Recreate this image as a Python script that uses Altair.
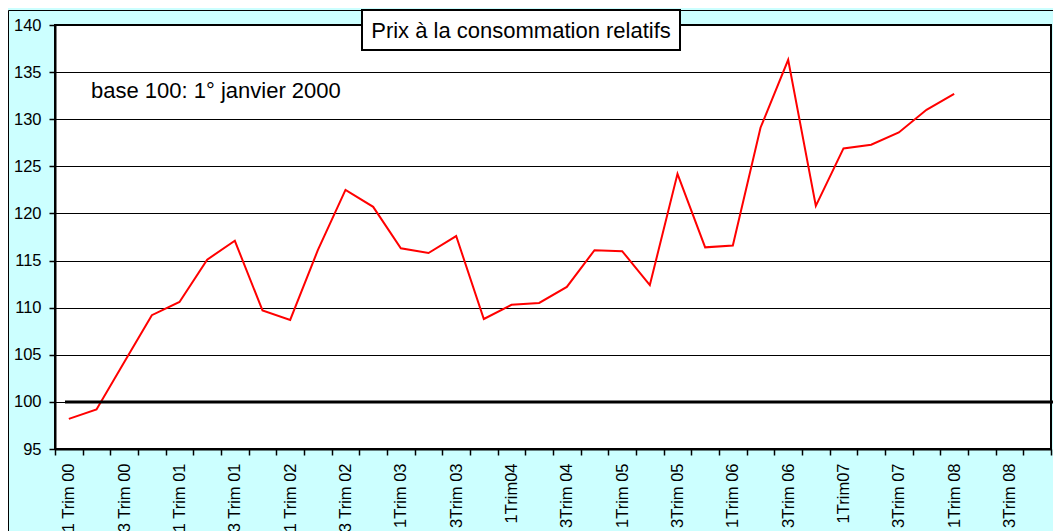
import altair as alt
import pandas as pd

FONT = "Liberation Sans"

categories = [
    "1 Trim 00", "2 Trim 00", "3 Trim 00", "4 Trim 00",
    "1 Trim 01", "2 Trim 01", "3 Trim 01", "4 Trim 01",
    "1 Trim 02", "2 Trim 02", "3 Trim 02", "4 Trim 02",
    "1Trim 03", "2Trim 03", "3Trim 03", "4Trim 03",
    "1Trim04", "2Trim04", "3Trim 04", "4Trim 04",
    "1Trim 05", "2Trim 05", "3Trim 05", "4Trim 05",
    "1Trim 06", "2Trim 06", "3Trim 06", "4Trim 06",
    "1Trim07", "2Trim07", "3Trim 07", "4Trim 07",
    "1Trim 08", "2Trim 08", "3Trim 08", "4Trim 08",
]

values = [
    98.2, 99.2, 104.2, 109.2, 110.6, 115.1, 117.1, 109.7, 108.7, 116.1,
    122.5, 120.7, 116.3, 115.8, 117.6, 108.8, 110.3, 110.5, 112.2, 116.1,
    116.0, 112.4, 124.2, 116.4, 116.6, 129.1, 136.3, 120.8, 126.9, 127.3,
    128.6, 131.0, 132.7,
]

y_ticks = [95, 100, 105, 110, 115, 120, 125, 130, 135, 140]

title_text = "Prix à la consommation relatifs"
note_text = "base 100: 1° janvier 2000"

df = pd.DataFrame({"trim": categories[: len(values)], "val": values})
ann = pd.DataFrame({"t": [title_text]})

x_enc = alt.X(
    "trim:N",
    sort=categories,
    scale=alt.Scale(type="band", domain=categories, paddingInner=0, paddingOuter=0),
    axis=alt.Axis(
        title=None,
        tickBand="extent",
        labelAngle=270,
        labelOverlap=False,
        labelExpr="(substring(datum.label,0,1)=='2' || substring(datum.label,0,1)=='4') ? '' : datum.label",
        tickSize=6,
        tickWidth=1.5,
        labelPadding=8,
        domainWidth=2,
        grid=False,
    ),
)

y_enc = alt.Y(
    "val:Q",
    scale=alt.Scale(domain=[95, 140], nice=False, zero=False),
    axis=alt.Axis(
        title=None,
        values=y_ticks,
        grid=True,
        gridColor="#000000",
        gridWidth=1,
        tickSize=6,
        tickWidth=1.5,
        labelPadding=8,
        domainWidth=2,
    ),
)

line = alt.Chart(df).mark_line(color="#FF0000", strokeWidth=2).encode(x=x_enc, y=y_enc)

base_rule = alt.Chart(ann).mark_rule(color="#000000", strokeWidth=3).encode(
    y=alt.datum(100), x=alt.value(10), x2=alt.value(1012)
)

border = alt.Chart(ann).mark_rect(fill=None, stroke="#000000", strokeWidth=1).encode(
    x=alt.value(-46.5), x2=alt.value(1100), y=alt.value(-14.5), y2=alt.value(700)
)

title_box = alt.Chart(ann).mark_rect(fill="#FFFFFF", stroke="#000000", strokeWidth=2).encode(
    x=alt.value(307), x2=alt.value(625), y=alt.value(-15), y2=alt.value(25)
)

title_txt = alt.Chart(ann).mark_text(
    font=FONT, fontSize=22, color="#000000", align="center", baseline="middle"
).encode(x=alt.value(466), y=alt.value(6), text="t:N")

note = alt.Chart(ann).mark_text(
    font=FONT, fontSize=22, color="#000000", align="left", baseline="middle", text=note_text
).encode(x=alt.value(36), y=alt.value(66))

chart = (
    alt.layer(line, base_rule, border, title_box, title_txt, note)
    .properties(
        width=996,
        height=424,
        autosize=alt.AutoSizeParams(type="none"),
        padding={"left": 47, "top": 17, "right": 2, "bottom": 82},
        background="#CCFFFF",
    )
    .configure_axis(
        labelFont=FONT,
        labelFontSize=16.5,
        labelColor="#000000",
        domainColor="#000000",
        tickColor="#000000",
    )
    .configure_view(fill="#FFFFFF", stroke="#000000", strokeWidth=2)
)

chart.save("out.html", embed_options={"renderer": "svg", "actions": False})
